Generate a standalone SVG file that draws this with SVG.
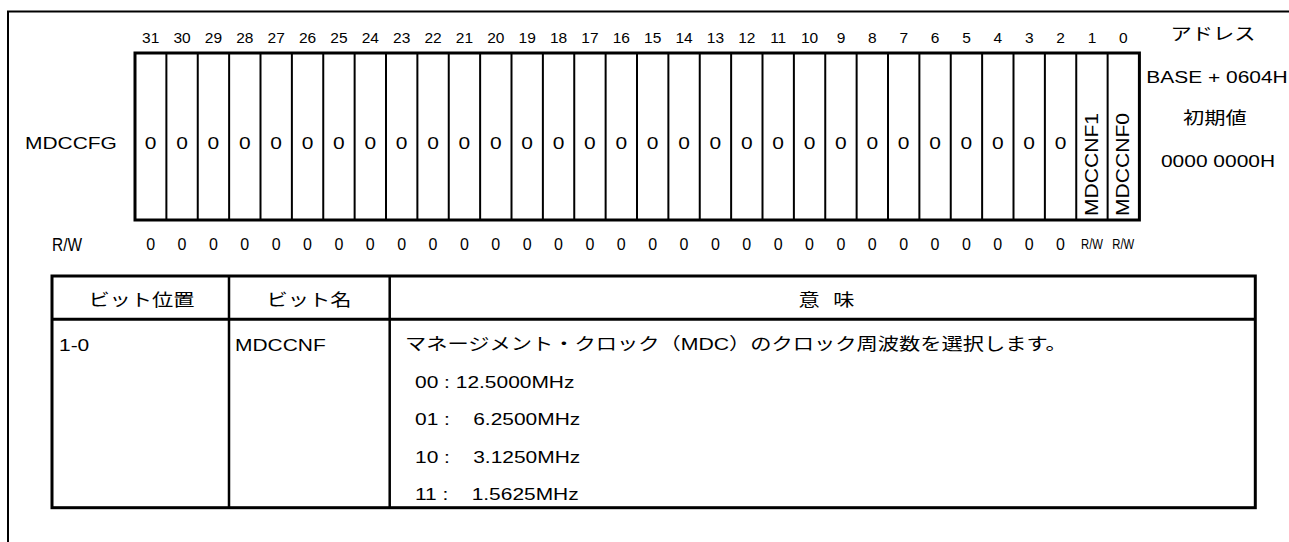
<svg xmlns="http://www.w3.org/2000/svg" width="1289" height="542" viewBox="0 0 1289 542">
<style>
text{font-family:"Liberation Sans","Noto Sans CJK JP",Arial,sans-serif;fill:#000;}
.n{font-size:15.5px;text-anchor:middle;}
.c{font-size:16.5px;text-anchor:middle;transform-box:fill-box;transform-origin:center;transform:scaleX(1.27);}
.wl{font-size:16.5px;transform-box:fill-box;transform-origin:left;transform:scaleX(1.27);}
.j{font-size:17px;text-anchor:middle;transform-box:fill-box;transform-origin:center;transform:scaleX(1.25);}
.jl{font-size:17px;transform-box:fill-box;transform-origin:left;transform:scaleX(1.25);}
.z{font-size:16px;text-anchor:middle;}
.thick{fill:none;stroke:#000;stroke-width:3;}
.thin{fill:none;stroke:#000;stroke-width:2;}
.col{fill:none;stroke:#000;stroke-width:2.5;}
</style>
<rect width="1289" height="542" fill="#fff"/>
<g id="frame">
<path class="thin" d="M8 542V11.5H1289"/>
</g>
<g id="bit-numbers">
<text class="n" x="150.69" y="43">31</text>
<text class="n" x="182.06" y="43">30</text>
<text class="n" x="213.44" y="43">29</text>
<text class="n" x="244.81" y="43">28</text>
<text class="n" x="276.19" y="43">27</text>
<text class="n" x="307.56" y="43">26</text>
<text class="n" x="338.94" y="43">25</text>
<text class="n" x="370.31" y="43">24</text>
<text class="n" x="401.69" y="43">23</text>
<text class="n" x="433.06" y="43">22</text>
<text class="n" x="464.44" y="43">21</text>
<text class="n" x="495.81" y="43">20</text>
<text class="n" x="527.19" y="43">19</text>
<text class="n" x="558.56" y="43">18</text>
<text class="n" x="589.94" y="43">17</text>
<text class="n" x="621.31" y="43">16</text>
<text class="n" x="652.69" y="43">15</text>
<text class="n" x="684.06" y="43">14</text>
<text class="n" x="715.44" y="43">13</text>
<text class="n" x="746.81" y="43">12</text>
<text class="n" x="778.19" y="43">11</text>
<text class="n" x="809.56" y="43">10</text>
<text class="n" x="840.94" y="43">9</text>
<text class="n" x="872.31" y="43">8</text>
<text class="n" x="903.69" y="43">7</text>
<text class="n" x="935.06" y="43">6</text>
<text class="n" x="966.44" y="43">5</text>
<text class="n" x="997.81" y="43">4</text>
<text class="n" x="1029.19" y="43">3</text>
<text class="n" x="1060.56" y="43">2</text>
<text class="n" x="1091.94" y="43">1</text>
<text class="n" x="1123.31" y="43">0</text>
</g>
<g id="register">
<text class="wl" x="25" y="149">MDCCFG</text>
<rect class="thick" x="135" y="53" width="1004.4" height="167" fill="#fff"/>
<path class="thin" d="M166.38 53V220M197.75 53V220M229.13 53V220M260.5 53V220M291.88 53V220M323.25 53V220M354.63 53V220M386 53V220M417.38 53V220M448.75 53V220M480.13 53V220M511.5 53V220M542.88 53V220M574.25 53V220M605.63 53V220M637 53V220M668.38 53V220M699.75 53V220M731.13 53V220M762.5 53V220M793.88 53V220M825.25 53V220M856.63 53V220M888 53V220M919.38 53V220M950.75 53V220M982.13 53V220M1013.5 53V220M1044.88 53V220M1076.25 53V220M1107.63 53V220"/>
<text class="c" x="150.69" y="149">0</text>
<text class="c" x="182.06" y="149">0</text>
<text class="c" x="213.44" y="149">0</text>
<text class="c" x="244.81" y="149">0</text>
<text class="c" x="276.19" y="149">0</text>
<text class="c" x="307.56" y="149">0</text>
<text class="c" x="338.94" y="149">0</text>
<text class="c" x="370.31" y="149">0</text>
<text class="c" x="401.69" y="149">0</text>
<text class="c" x="433.06" y="149">0</text>
<text class="c" x="464.44" y="149">0</text>
<text class="c" x="495.81" y="149">0</text>
<text class="c" x="527.19" y="149">0</text>
<text class="c" x="558.56" y="149">0</text>
<text class="c" x="589.94" y="149">0</text>
<text class="c" x="621.31" y="149">0</text>
<text class="c" x="652.69" y="149">0</text>
<text class="c" x="684.06" y="149">0</text>
<text class="c" x="715.44" y="149">0</text>
<text class="c" x="746.81" y="149">0</text>
<text class="c" x="778.19" y="149">0</text>
<text class="c" x="809.56" y="149">0</text>
<text class="c" x="840.94" y="149">0</text>
<text class="c" x="872.31" y="149">0</text>
<text class="c" x="903.69" y="149">0</text>
<text class="c" x="935.06" y="149">0</text>
<text class="c" x="966.44" y="149">0</text>
<text class="c" x="997.81" y="149">0</text>
<text class="c" x="1029.19" y="149">0</text>
<text class="c" x="1060.56" y="149">0</text>
<text transform="translate(1097.5 216) rotate(-90)" font-size="18" textLength="103" lengthAdjust="spacingAndGlyphs">MDCCNF1</text>
<text transform="translate(1128.5 216) rotate(-90)" font-size="18" textLength="103" lengthAdjust="spacingAndGlyphs">MDCCNF0</text>
</g>
<g id="access">
<text x="52" y="251" font-size="17.5" textLength="30" lengthAdjust="spacingAndGlyphs">R/W</text>
<text class="z" x="150.69" y="250">0</text>
<text class="z" x="182.06" y="250">0</text>
<text class="z" x="213.44" y="250">0</text>
<text class="z" x="244.81" y="250">0</text>
<text class="z" x="276.19" y="250">0</text>
<text class="z" x="307.56" y="250">0</text>
<text class="z" x="338.94" y="250">0</text>
<text class="z" x="370.31" y="250">0</text>
<text class="z" x="401.69" y="250">0</text>
<text class="z" x="433.06" y="250">0</text>
<text class="z" x="464.44" y="250">0</text>
<text class="z" x="495.81" y="250">0</text>
<text class="z" x="527.19" y="250">0</text>
<text class="z" x="558.56" y="250">0</text>
<text class="z" x="589.94" y="250">0</text>
<text class="z" x="621.31" y="250">0</text>
<text class="z" x="652.69" y="250">0</text>
<text class="z" x="684.06" y="250">0</text>
<text class="z" x="715.44" y="250">0</text>
<text class="z" x="746.81" y="250">0</text>
<text class="z" x="778.19" y="250">0</text>
<text class="z" x="809.56" y="250">0</text>
<text class="z" x="840.94" y="250">0</text>
<text class="z" x="872.31" y="250">0</text>
<text class="z" x="903.69" y="250">0</text>
<text class="z" x="935.06" y="250">0</text>
<text class="z" x="966.44" y="250">0</text>
<text class="z" x="997.81" y="250">0</text>
<text class="z" x="1029.19" y="250">0</text>
<text class="z" x="1060.56" y="250">0</text>
<text x="1081" y="249" font-size="15.5" textLength="22" lengthAdjust="spacingAndGlyphs">R/W</text>
<text x="1112.3" y="249" font-size="15.5" textLength="22" lengthAdjust="spacingAndGlyphs">R/W</text>
</g>
<g id="address">
<text class="j" x="1213" y="40">アドレス</text>
<text class="c" x="1217" y="83">BASE + 0604H</text>
<text class="j" x="1215" y="124">初期値</text>
<text class="c" x="1218" y="167">0000 0000H</text>
</g>
<g id="table">
<rect class="thick" x="52" y="276" width="1203.3" height="231.7"/>
<path class="thick" d="M52 319.3H1255.3"/>
<path class="col" d="M229 276V507.7M389.7 276V507.7"/>
<text class="j" x="141.5" y="306">ビット位置</text>
<text class="j" x="309" y="306">ビット名</text>
<text class="j" x="826.5" y="306" style="word-spacing:6px">意 味</text>
<text class="wl" x="59" y="351">1-0</text>
<text class="wl" x="235" y="351">MDCCNF</text>
<text class="jl" x="405" y="350">マネージメント・クロック（MDC）のクロック周波数を選択します。</text>
<text class="wl" x="415" y="388" xml:space="preserve">00 : 12.5000MHz</text>
<text class="wl" x="415" y="425.5" xml:space="preserve">01 :    6.2500MHz</text>
<text class="wl" x="415" y="463" xml:space="preserve">10 :    3.1250MHz</text>
<text class="wl" x="415" y="500" xml:space="preserve">11 :    1.5625MHz</text>
</g>
</svg>
